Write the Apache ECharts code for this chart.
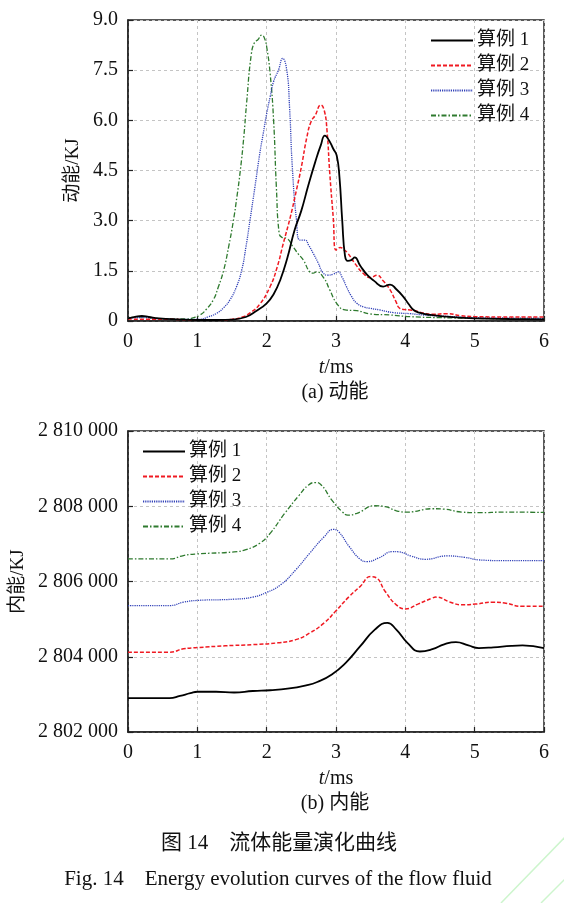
<!DOCTYPE html>
<html>
<head>
<meta charset="utf-8">
<script src="https://cdn.jsdelivr.net/npm/echarts@6/dist/echarts.min.js"></script>
<style>
html,body{margin:0;padding:0;background:#fff;}
#chart{width:564px;height:903px;}
</style>
</head>
<body>
<div id="chart"></div>
<script>
// ---------- data ----------
var seriesNames = ['算例 1', '算例 2', '算例 3', '算例 4'];
var xTicks = [0, 1, 2, 3, 4, 5, 6];
var keTicks = [0, 1.5, 3.0, 4.5, 6.0, 7.5, 9.0];
var ieTicks = [2802000, 2804000, 2806000, 2808000, 2810000];

// (a) kinetic energy
var tKE1 = [0,0.1,0.2,0.3,0.45,0.7,1.0,1.3,1.5,1.7,1.85,2.0,2.1,2.2,2.3,2.4,2.5,2.6,2.7,2.78,2.84,2.9,2.96,3.01,3.05,3.09,3.13,3.17,3.22,3.27,3.35,3.45,3.55,3.68,3.78,3.87,3.97,4.05,4.12,4.2,4.36,4.6,5.0,5.5,6.0];
var ke1  = [0.08,0.12,0.15,0.12,0.08,0.05,0.03,0.03,0.04,0.12,0.3,0.53,0.8,1.25,1.9,2.7,3.3,4.05,4.75,5.25,5.54,5.4,5.15,4.95,4.3,3.0,1.95,1.8,1.82,1.9,1.65,1.38,1.2,1.03,1.09,0.95,0.73,0.5,0.33,0.25,0.18,0.13,0.08,0.06,0.05];

var tKE2 = [0,0.3,0.6,1.0,1.3,1.5,1.65,1.76,1.9,2.05,2.15,2.24,2.34,2.43,2.5,2.58,2.64,2.7,2.78,2.83,2.87,2.91,2.96,3.0,3.06,3.12,3.17,3.28,3.39,3.5,3.59,3.68,3.78,3.86,3.92,4.0,4.07,4.15,4.26,4.4,4.6,4.8,5.0,5.5,6.0];
var ke2  = [0.06,0.05,0.05,0.03,0.03,0.05,0.12,0.24,0.5,1.03,1.6,2.32,3.1,3.92,4.6,5.5,5.96,6.15,6.46,6.3,5.7,4.42,3.1,2.12,2.2,2.12,2.03,1.7,1.43,1.3,1.37,1.2,0.93,0.6,0.38,0.34,0.33,0.3,0.24,0.2,0.22,0.16,0.13,0.12,0.12];

var tKE3 = [0,0.2,0.5,0.8,1.04,1.15,1.28,1.38,1.47,1.56,1.64,1.7,1.76,1.83,1.9,1.95,2.0,2.05,2.1,2.17,2.23,2.29,2.33,2.37,2.43,2.48,2.55,2.61,2.67,2.74,2.81,2.88,2.96,3.03,3.09,3.15,3.22,3.3,3.4,3.49,3.63,3.83,4.07,4.26,4.6,5.0,5.5,6.0];
var ke3  = [0.08,0.1,0.06,0.05,0.05,0.12,0.23,0.4,0.63,1.0,1.52,2.2,3.02,4.0,5.0,5.6,6.2,6.7,7.16,7.5,7.85,7.5,6.4,4.6,3.02,2.42,2.42,2.25,2.03,1.75,1.45,1.37,1.4,1.47,1.3,1.03,0.75,0.53,0.42,0.38,0.33,0.25,0.22,0.18,0.14,0.1,0.09,0.08];

var tKE4 = [0,0.2,0.4,0.6,0.85,0.95,1.04,1.13,1.23,1.3,1.38,1.45,1.52,1.57,1.62,1.67,1.71,1.78,1.83,1.87,1.93,1.97,2.0,2.05,2.1,2.14,2.18,2.22,2.29,2.38,2.45,2.53,2.62,2.67,2.72,2.82,2.91,3.01,3.13,3.3,3.49,3.78,4.07,4.5,5.0,5.5,6.0];
var ke4  = [0.1,0.12,0.08,0.06,0.06,0.1,0.18,0.35,0.63,1.0,1.52,2.2,3.0,3.7,4.5,5.5,6.5,8.0,8.35,8.4,8.55,8.45,8.2,7.4,6.0,4.0,2.62,2.5,2.47,2.22,2.02,1.82,1.47,1.43,1.47,1.3,0.93,0.53,0.33,0.31,0.21,0.18,0.13,0.1,0.08,0.06,0.05];

// (b) internal energy
var tIE1 = [0,0.6,0.75,0.9,1.0,1.27,1.53,1.8,2.05,2.3,2.57,2.73,2.94,3.14,3.35,3.56,3.74,3.87,4.03,4.21,4.39,4.56,4.73,4.91,5.06,5.27,5.53,5.69,6.0];
var ie1  = [2802900,2802900,2802960,2803030,2803070,2803070,2803050,2803090,2803110,2803150,2803240,2803330,2803530,2803840,2804280,2804720,2804900,2804720,2804370,2804140,2804200,2804330,2804390,2804300,2804230,2804250,2804290,2804300,2804230];

var tIE2 = [0,0.6,0.8,1.0,1.4,1.8,2.16,2.42,2.62,2.83,2.99,3.19,3.35,3.5,3.58,3.71,3.87,4.0,4.18,4.39,4.44,4.65,4.81,5.01,5.27,5.43,5.69,6.0];
var ie2  = [2804120,2804120,2804210,2804243,2804290,2804322,2804370,2804455,2804630,2804900,2805200,2805600,2805870,2806130,2806100,2805735,2805380,2805270,2805400,2805560,2805585,2805450,2805380,2805400,2805450,2805430,2805340,2805340];

var tIE3 = [0,0.6,0.8,1.0,1.53,1.8,2.0,2.2,2.42,2.62,2.83,2.96,3.04,3.19,3.35,3.45,3.61,3.82,3.9,4.08,4.29,4.6,4.86,5.06,5.43,6.0];
var ie3  = [2805360,2805360,2805450,2805497,2805530,2805585,2805710,2805910,2806310,2806750,2807190,2807385,2807320,2806930,2806590,2806530,2806620,2806795,2806790,2806680,2806590,2806680,2806640,2806574,2806555,2806556];

var tIE4 = [0,0.6,0.8,1.0,1.53,1.69,1.9,2.05,2.26,2.47,2.6,2.7,2.78,2.94,3.09,3.17,3.3,3.56,3.71,3.87,4.03,4.39,4.55,4.81,5.06,5.43,6.0];
var ie4  = [2806600,2806600,2806690,2806733,2806786,2806840,2807015,2807280,2807810,2808296,2808560,2808630,2808580,2808163,2807854,2807766,2807810,2808013,2807990,2807880,2807845,2807934,2807925,2807845,2807828,2807845,2807836];

// ---------- styles ----------
var FONT = "'Liberation Serif', 'Times New Roman', 'Noto Sans CJK SC', serif";
var colors = ['#000000', '#f01a22', '#3242b8', '#2e7a2e'];
var widths = [1.8, 1.5, 1.3, 1.3];
var dashes = ['solid', [4, 2], [1.2, 1], [5, 2, 1.5, 2]];

function zip(t, v) { return t.map(function (x, i) { return [x, v[i]]; }); }

function mkSeries(idx, t, v, gi) {
  return {
    name: seriesNames[idx], type: 'line', xAxisIndex: gi, yAxisIndex: gi,
    data: zip(t, v), symbol: 'none', smooth: 0.5,
    lineStyle: { color: colors[idx], width: widths[idx], type: dashes[idx] },
    itemStyle: { color: colors[idx] }, z: 10 - idx
  };
}

function fmtThousands(v) {
  return String(Math.round(v)).replace(/\B(?=(\d{3})+(?!\d))/g, ' ');
}

var axisTextStyle = { fontFamily: FONT, fontSize: 20, color: '#111' };
var splitStyle = { show: true, lineStyle: { color: '#c4c4c4', type: [3, 3], width: 1 } };
var lineAx = { show: true, lineStyle: { color: '#222', width: 1.5 } };
var tickAx = { show: true, inside: true, length: 5, lineStyle: { color: '#222', width: 1.2 } };

function xAx(gi) {
  return {
    type: 'value', gridIndex: gi, min: xTicks[0], max: xTicks[xTicks.length - 1], interval: 1,
    axisLine: lineAx, axisTick: tickAx, splitLine: splitStyle,
    axisLabel: Object.assign({ margin: 11 }, axisTextStyle),
    name: '{i|t}/ms', nameLocation: 'middle', nameGap: 37,
    nameTextStyle: { fontFamily: FONT, fontSize: 20, color: '#111',
      rich: { i: { fontFamily: FONT, fontSize: 20, fontStyle: 'italic', color: '#111' } } }
  };
}

var legendBase = {
  data: seriesNames, orient: 'vertical', itemWidth: 42, itemHeight: 12, itemGap: 6,
  itemStyle: { opacity: 0, color: 'rgba(0,0,0,0)', borderWidth: 0 },
  textStyle: { fontFamily: FONT, fontSize: 19, color: '#111', padding: [0, 0, 0, -1] },
  selectedMode: false
};

var option = {
  animation: false,
  backgroundColor: '#fff',
  grid: [
    { left: 128, width: 416, top: 20, height: 301, show: true, borderColor: '#222', borderWidth: 1.5, backgroundColor: 'transparent' },
    { left: 128, width: 416, top: 431, height: 301, show: true, borderColor: '#222', borderWidth: 1.5, backgroundColor: 'transparent' }
  ],
  legend: [
    Object.assign({ left: 425, top: 26 }, legendBase),
    Object.assign({ left: 137, top: 437 }, legendBase)
  ],
  xAxis: [xAx(0), xAx(1)],
  yAxis: [
    { type: 'value', gridIndex: 0, min: keTicks[0], max: keTicks[keTicks.length - 1], interval: 1.5,
      axisLine: lineAx, axisTick: tickAx, splitLine: splitStyle,
      axisLabel: Object.assign({ margin: 10, formatter: function (v) { return v === 0 ? '0' : v.toFixed(1); } }, axisTextStyle),
      name: '动能/KJ', nameLocation: 'middle', nameGap: 42, nameTextStyle: { fontFamily: FONT, fontSize: 19, color: '#111' } },
    { type: 'value', gridIndex: 1, min: ieTicks[0], max: ieTicks[ieTicks.length - 1], interval: 2000,
      axisLine: lineAx, axisTick: tickAx, splitLine: splitStyle,
      axisLabel: Object.assign({ margin: 10, formatter: fmtThousands }, axisTextStyle),
      name: '内能/KJ', nameLocation: 'middle', nameGap: 97, nameTextStyle: { fontFamily: FONT, fontSize: 19, color: '#111' } }
  ],
  series: [
    mkSeries(0, tKE1, ke1, 0), mkSeries(1, tKE2, ke2, 0), mkSeries(2, tKE3, ke3, 0), mkSeries(3, tKE4, ke4, 0),
    mkSeries(0, tIE1, ie1, 1), mkSeries(1, tIE2, ie2, 1), mkSeries(2, tIE3, ie3, 1), mkSeries(3, tIE4, ie4, 1)
  ],
  graphic: [
    { type: 'text', x: 335, y: 393, style: { text: '(a) 动能', font: "20px " + FONT, fill: '#111', textAlign: 'center', textVerticalAlign: 'middle' } },
    { type: 'text', x: 335, y: 804, style: { text: '(b) 内能', font: "20px " + FONT, fill: '#111', textAlign: 'center', textVerticalAlign: 'middle' } },
    { type: 'text', x: 279, y: 843, style: { text: '图 14\u3000流体能量演化曲线', font: "21px " + FONT, fill: '#111', textAlign: 'center', textVerticalAlign: 'middle' } },
    { type: 'text', x: 278, y: 879, style: { text: 'Fig. 14    Energy evolution curves of the flow fluid', font: "21px " + FONT, fill: '#111', textAlign: 'center', textVerticalAlign: 'middle' } },
    { type: 'line', shape: { x1: 501, y1: 903, x2: 566, y2: 836 }, style: { stroke: '#cdf5cd', lineWidth: 1.5 } },
    { type: 'line', shape: { x1: 541, y1: 903, x2: 566, y2: 878 }, style: { stroke: '#cdf5cd', lineWidth: 1.5 } }
  ]
};

var chart = echarts.init(document.getElementById('chart'), null, { renderer: 'canvas' });
chart.setOption(option);
</script>
</body>
</html>
